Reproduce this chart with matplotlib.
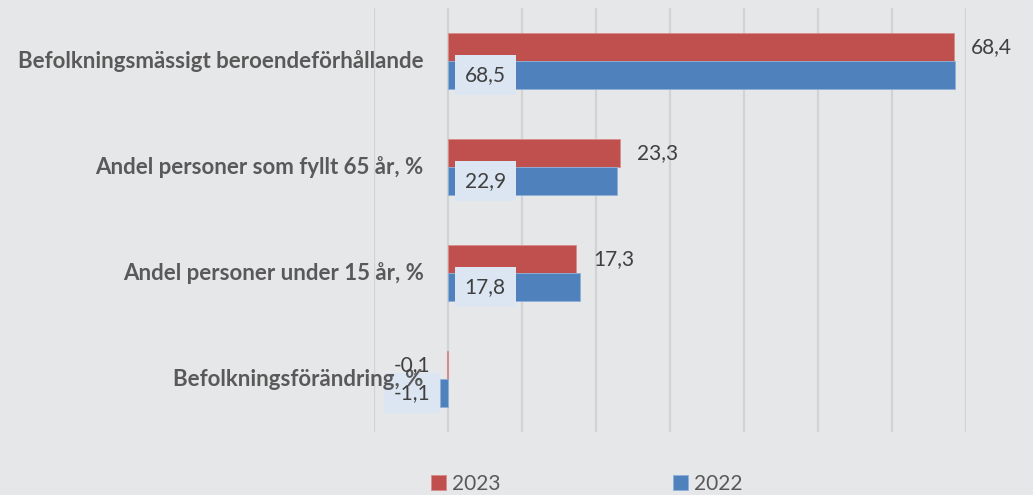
"""
Grouped horizontal bar chart, 2023 vs 2022
"""

from matplotlib import pyplot as plt

categories = ["Befolkningsmässigt beroendeförhållande",
              "Andel personer som fyllt 65 år, %",
              "Andel personer under 15 år, %",
              "Befolkningsförändring, %"]
values_2023 = [68.4, 23.3, 17.3, -0.1]
values_2022 = [68.5, 22.9, 17.8, -1.1]
labels_2023 = ["68,4", "23,3", "17,3", "-0,1"]
labels_2022 = ["68,5", "22,9", "17,8", "-1,1"]

bg = "#e6e7e9"
red = "#c0504d"
blue = "#4f81bd"

plt.rcParams["font.family"] = ["Lato", "DejaVu Sans"]

fig = plt.figure(figsize=(10.33, 4.95), dpi=100, facecolor=bg)
ax = fig.add_axes([374/1033, 1-432/495, (966-374)/1033, 424/495])
ax.set_facecolor(bg)

ypos = list(range(len(categories)))
h = 0.26
ax.barh([y - h/2 for y in ypos], values_2023, height=h, color=red, label="2023",
        edgecolor="#d98c8a", linewidth=0.6, zorder=3)
ax.barh([y + h/2 for y in ypos], values_2022, height=h, color=blue, label="2022",
        edgecolor="#8fb0d8", linewidth=0.6, zorder=3)

ax.set_xlim(-10, 70)
ax.set_ylim(len(categories) - 0.5, -0.5)
ax.set_xticks(range(-10, 71, 10))
ax.set_yticks([])
ax.tick_params(axis="x", length=0, labelbottom=False)
ax.grid(axis="x", color="#d2d3d5", linewidth=1.6, zorder=0)
for s in ax.spines.values():
    s.set_visible(False)

# category labels
for y, name in zip(ypos, categories):
    ax.text(-3.3, y, name, ha="right", va="center", fontsize=16,
            fontweight="bold", color="#595959", zorder=8)

# 2023 labels outside end
for y, v, lab in zip(ypos, values_2023, labels_2023):
    off = 17 if v >= 0 else -17
    ax.annotate(lab, (v, y - h/2), xytext=(off*0.72, 0), textcoords="offset points",
                ha="left" if v >= 0 else "right", va="center", fontsize=15,
                color="#404040", zorder=9, annotation_clip=False)

# 2022 labels in boxes near base
box = dict(boxstyle="square,pad=0.48", facecolor="#dce6f2", edgecolor="none")
for y, v, lab in zip(ypos, values_2022, labels_2022):
    if v >= 0:
        ax.annotate(lab, (0, y + h/2), xytext=(12, 0), textcoords="offset points",
                    ha="left", va="center", fontsize=15, color="#404040",
                    bbox=box, zorder=6)
    else:
        ax.annotate(lab, (v, y + h/2), xytext=(-7, 0), textcoords="offset points",
                    ha="right", va="center", fontsize=15, color="#404040",
                    bbox=box, zorder=6)

fig.legend(loc="lower center", bbox_to_anchor=(0.568, -0.035), ncol=2, frameon=False,
           fontsize=15, handlelength=0.7, handleheight=0.7, handletextpad=0.3,
           columnspacing=8.3, labelcolor="#595959")

plt.savefig("out.png", dpi=100, facecolor=bg)
